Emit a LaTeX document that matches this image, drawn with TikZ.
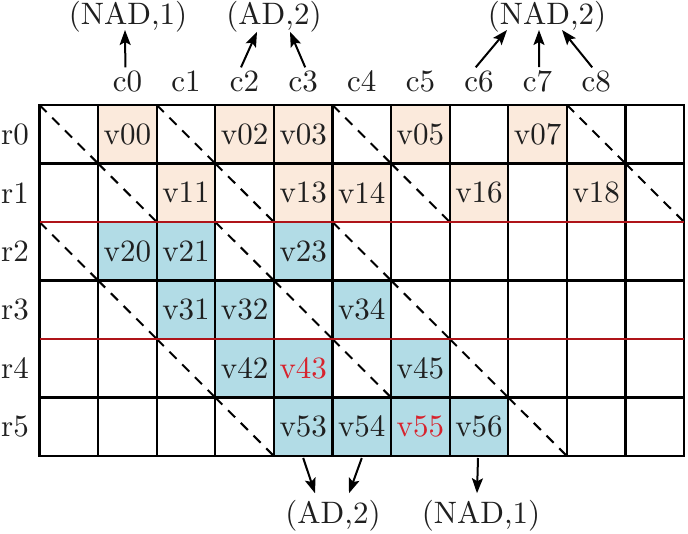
\documentclass[tikz,border=0pt]{standalone}
\usetikzlibrary{arrows.meta}
\definecolor{peach}{RGB}{251,234,220}
\definecolor{lblue}{RGB}{178,220,230}
\definecolor{redline}{RGB}{175,20,25}
\definecolor{redtext}{RGB}{215,35,45}
\font\bigrm="[lmroman10-regular]:+tlig;" at 31pt
\newcommand\mkcell[4]{\node[#1] (#4) at ({39.5+58.6*(#3+0.5)},{105+58.5*(#2+0.5)}) {#4};}
\begin{document}
\begin{tikzpicture}[x=1pt,y=-1pt,
  txt/.style={inner sep=0pt, outer sep=0pt, font=\bigrm, text=black!88},
  cellbox/.style={txt, minimum width=58.6pt, minimum height=58.5pt},
  pk/.style={cellbox, fill=peach},
  bl/.style={cellbox, fill=lblue},
  hot/.style={text=redtext},
  gridline/.style={line width=2.2pt, black, line cap=rect},
  sepline/.style={line width=2.6pt, redline},
  diag/.style={line width=2pt, dash pattern=on 10pt off 8pt},
  arr/.style={line width=2pt, -{Stealth[length=15pt,width=11pt,inset=3pt]}}
]
\useasboundingbox (0,0) rectangle (688,534);

% value cells
\mkcell{pk}{0}{1}{v00}
\mkcell{pk}{0}{3}{v02}
\mkcell{pk}{0}{4}{v03}
\mkcell{pk}{0}{6}{v05}
\mkcell{pk}{0}{8}{v07}
\mkcell{pk}{1}{2}{v11}
\mkcell{pk}{1}{4}{v13}
\mkcell{pk}{1}{5}{v14}
\mkcell{pk}{1}{7}{v16}
\mkcell{pk}{1}{9}{v18}
\mkcell{bl}{2}{1}{v20}
\mkcell{bl}{2}{2}{v21}
\mkcell{bl}{2}{4}{v23}
\mkcell{bl}{3}{2}{v31}
\mkcell{bl}{3}{3}{v32}
\mkcell{bl}{3}{5}{v34}
\mkcell{bl}{4}{3}{v42}
\mkcell{bl,hot}{4}{4}{v43}
\mkcell{bl}{4}{6}{v45}
\mkcell{bl}{5}{4}{v53}
\mkcell{bl}{5}{5}{v54}
\mkcell{bl,hot}{5}{6}{v55}
\mkcell{bl}{5}{7}{v56}

% dashed diagonals
\foreach \r/\c in {0/0,0/2,0/5,0/9,1/1,1/3,1/6,1/10,2/0,2/3,2/5,3/1,3/4,3/6,4/2,4/5,4/7,5/3,5/8}
  \draw[diag] ({39.5+58.6*\c},{105+58.5*\r}) -- ++(58.6,58.5);

% grid
\foreach \j in {0,...,11}
  \draw[gridline] ({39.5+58.6*\j},105) -- ({39.5+58.6*\j},456);
\foreach \i in {0,1,3,5,6}
  \draw[gridline] (39.5,{105+58.5*\i}) -- (684.1,{105+58.5*\i});
\foreach \i in {2,4}
  \draw[sepline] (39.5,{105+58.5*\i}) -- (684.1,{105+58.5*\i});

% row labels
\foreach \i in {0,...,5}
  \node[txt] (r\i) at (15,{105+58.5*(\i+0.5)}) {r\i};

% column labels
\foreach \j in {0,...,8}
  \node[txt, anchor=base] (c\j) at ({39.5+58.6*(\j+1.5)},92) {c\j};

% top annotations
\node[txt, anchor=base] (nadone) at (128,25) {(NAD,1)};
\node[txt, anchor=base] (adtwo) at (274,25) {(AD,2)};
\node[txt, anchor=base] (nadtwo) at (547,25) {(NAD,2)};

\draw[arr] ([xshift=-2pt,yshift=4pt]c0.north) -- ([xshift=-3pt,yshift=2.75pt]nadone.south);
\draw[arr] ([xshift=-3.6pt,yshift=4pt]c2.north) -- ([xshift=-17pt,yshift=1pt]adtwo.south);
\draw[arr] ([xshift=2pt,yshift=4pt]c3.north) -- ([xshift=16pt,yshift=1pt]adtwo.south);
\draw[arr] ([xshift=-3.3pt,yshift=4pt]c6.north) -- ([xshift=-40pt,yshift=2.75pt]nadtwo.south);
\draw[arr] ([xshift=1.4pt,yshift=4pt]c7.north) -- ([xshift=-8pt,yshift=2.75pt]nadtwo.south);
\draw[arr] ([xshift=-4pt,yshift=4pt]c8.north) -- ([xshift=15pt,yshift=2.75pt]nadtwo.south);

% bottom annotations
\node[txt, anchor=base] (adb) at (333,523) {(AD,2)};
\node[txt, anchor=base] (nadb) at (481,523) {(NAD,1)};

\draw[arr] ([yshift=-2pt]v53.south) -- ([xshift=-18pt,yshift=6.5pt]adb.north);
\draw[arr] ([yshift=-2pt]v54.south) -- ([xshift=16pt,yshift=6.5pt]adb.north);
\draw[arr] ([xshift=-1pt,yshift=-2pt]v56.south) -- ([xshift=-4pt,yshift=6.5pt]nadb.north);
\end{tikzpicture}
\end{document}
